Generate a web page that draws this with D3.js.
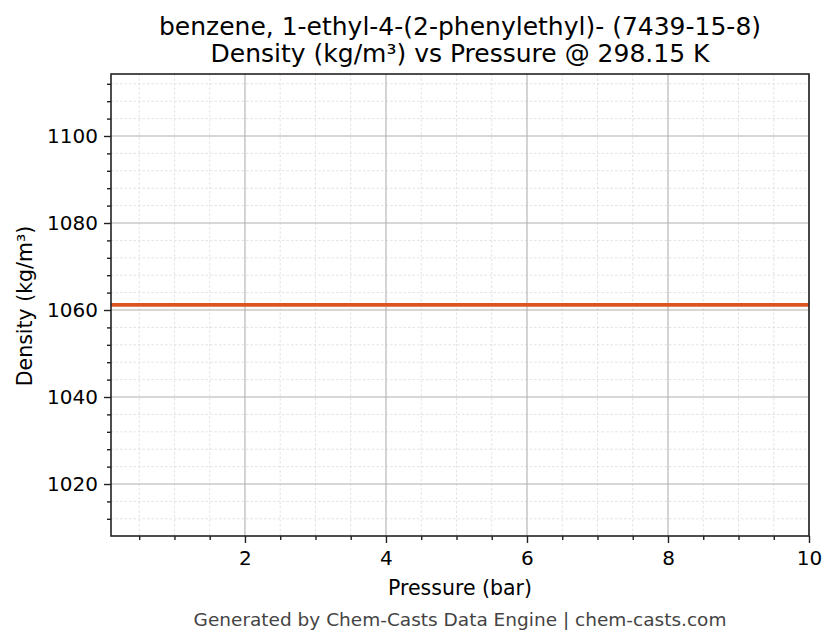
<!DOCTYPE html>
<html>
<head>
<meta charset="utf-8">
<script src="https://cdn.jsdelivr.net/npm/d3@7"></script>
<style>
body { margin: 0; background: #fff; }
text { font-family: "DejaVu Sans", sans-serif; }
</style>
</head>
<body>
<script>
// data
var pressure = [0.1, 1, 2, 3, 4, 5, 6, 7, 8, 9, 10];
var density = [1061.2, 1061.2, 1061.2, 1061.2, 1061.2, 1061.2, 1061.2, 1061.2, 1061.2, 1061.2, 1061.2];
var xTicks = [2, 4, 6, 8, 10];
var yTicks = [1020, 1040, 1060, 1080, 1100];

var W = 836, H = 644;
var m = {left: 111, right: 809, top: 74, bottom: 536};

var svg = d3.select("body").append("svg")
  .attr("width", W).attr("height", H);

var x = d3.scaleLinear().domain([0.1, 10]).range([m.left, m.right]);
var y = d3.scaleLinear().domain([1008.05, 1114.25]).range([m.bottom, m.top]);

var xMinor = d3.range(0.5, 10.01, 0.5).filter(function(v){ return xTicks.indexOf(v) < 0; });
var yMinor = d3.range(1012, 1114, 4).filter(function(v){ return yTicks.indexOf(v) < 0; });

var g = svg.append("g");

// minor grid
g.selectAll(".xmg").data(xMinor).enter().append("line")
  .attr("x1", function(d){ return x(d); }).attr("x2", function(d){ return x(d); })
  .attr("y1", m.top).attr("y2", m.bottom)
  .attr("stroke", "#dcdcdc").attr("stroke-width", 0.8).attr("stroke-dasharray", "2.5,2");
g.selectAll(".ymg").data(yMinor).enter().append("line")
  .attr("y1", function(d){ return y(d); }).attr("y2", function(d){ return y(d); })
  .attr("x1", m.left).attr("x2", m.right)
  .attr("stroke", "#dcdcdc").attr("stroke-width", 0.8).attr("stroke-dasharray", "2.5,2");

// major grid
g.selectAll(".xg").data(xTicks).enter().append("line")
  .attr("x1", function(d){ return x(d); }).attr("x2", function(d){ return x(d); })
  .attr("y1", m.top).attr("y2", m.bottom)
  .attr("stroke", "#b0b0b0").attr("stroke-width", 1.1);
g.selectAll(".yg").data(yTicks).enter().append("line")
  .attr("y1", function(d){ return y(d); }).attr("y2", function(d){ return y(d); })
  .attr("x1", m.left).attr("x2", m.right)
  .attr("stroke", "#b0b0b0").attr("stroke-width", 1.1);

// data line
var line = d3.line().x(function(d){ return x(d[0]); }).y(function(d){ return y(d[1]); });
svg.append("path")
  .datum(pressure.map(function(p, i){ return [p, density[i]]; }))
  .attr("d", line)
  .attr("fill", "none")
  .attr("stroke", "#dc5520")
  .attr("stroke-width", 3.8);

// axes
svg.append("g").attr("transform", "translate(0," + m.bottom + ")")
  .call(d3.axisBottom(x).tickValues(xTicks).tickSize(7).tickPadding(8).tickFormat(d3.format("d")));
svg.append("g").attr("transform", "translate(0," + m.bottom + ")")
  .call(d3.axisBottom(x).tickValues(xMinor).tickSize(4).tickFormat(""));
svg.append("g").attr("transform", "translate(" + m.left + ",0)")
  .call(d3.axisLeft(y).tickValues(yTicks).tickSize(7).tickPadding(6).tickFormat(d3.format("d")));
svg.append("g").attr("transform", "translate(" + m.left + ",0)")
  .call(d3.axisLeft(y).tickValues(yMinor).tickSize(4).tickFormat(""));

svg.selectAll(".domain").remove();
svg.selectAll(".tick line").attr("stroke", "#222").attr("stroke-width", 1.4);
svg.selectAll(".tick text").attr("font-size", "20px").attr("fill", "#000")
  .style("font-family", "DejaVu Sans");

// frame
svg.append("rect")
  .attr("x", m.left).attr("y", m.top)
  .attr("width", m.right - m.left).attr("height", m.bottom - m.top)
  .attr("fill", "none").attr("stroke", "#222").attr("stroke-width", 1.6);

// titles
svg.append("text").attr("x", 460).attr("y", 35).attr("text-anchor", "middle")
  .attr("font-size", "25px").text("benzene, 1-ethyl-4-(2-phenylethyl)- (7439-15-8)");
svg.append("text").attr("x", 460).attr("y", 62).attr("text-anchor", "middle")
  .attr("font-size", "25px").text("Density (kg/m³) vs Pressure @ 298.15 K");
svg.append("text").attr("x", 460).attr("y", 595).attr("text-anchor", "middle")
  .attr("font-size", "20.5px").text("Pressure (bar)");
svg.append("text").attr("transform", "translate(32,306) rotate(-90)").attr("text-anchor", "middle")
  .attr("font-size", "20.5px").text("Density (kg/m³)");
svg.append("text").attr("x", 460).attr("y", 626).attr("text-anchor", "middle")
  .attr("font-size", "18.5px").attr("fill", "#444").text("Generated by Chem-Casts Data Engine | chem-casts.com");
</script>
</body>
</html>
